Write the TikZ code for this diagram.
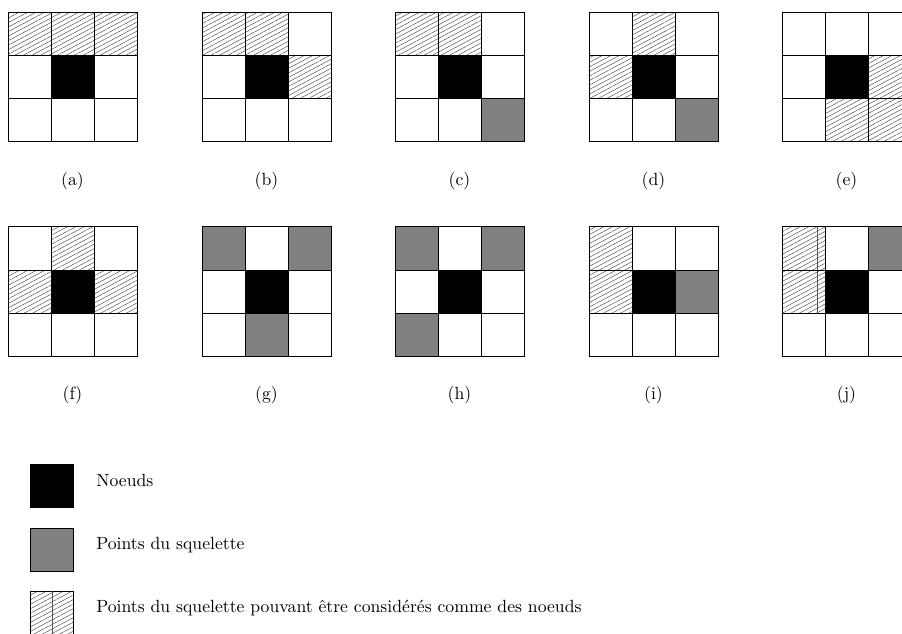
\documentclass[tikz,border=0pt]{standalone}
\usetikzlibrary{patterns.meta}
\definecolor{SkelGray}{HTML}{808080}
\definecolor{HatchGray}{HTML}{555555}

\tikzset{
  gridline/.style={line width=0.6pt},
  noeud/.style={fill=black},
  squel/.style={fill=SkelGray},
  hachure/.style={pattern={Lines[angle=28,distance=2.4pt,line width=0.3pt]},pattern color=HatchGray},
  trait/.style={HatchGray,line width=0.3pt},
  lab/.style={font=\fontsize{10.6pt}{13pt}\selectfont,inner sep=0pt}
}
% une grille 3x3 : cellules de 43 px, case centrale noire
\newcommand{\grille}[1]{%
  \fill[noeud] (43,43) rectangle ++(43,43);
  \foreach \k in {0,43,86,129}{\draw[gridline] (\k,0)--(\k,129);\draw[gridline] (0,\k)--(129,\k);}
  \node[lab] (lab#1) at (64.5,168) {(#1)};}

\begin{document}
\begin{tikzpicture}[x=0.6pt,y=-0.6pt,line cap=rect,line join=miter]
  \useasboundingbox (0,0) rectangle (902,634);
  \clip (0,0) rectangle (902,634);
  % premiere ligne
  \begin{scope}[shift={(8,13)}]
    \foreach \c/\r in {0/0,1/0,2/0}{\fill[hachure] (43*\c,43*\r) rectangle ++(43,43);}
    \grille{a}
  \end{scope}
  \begin{scope}[shift={(202,13)}]
    \foreach \c/\r in {0/0,1/0,2/1}{\fill[hachure] (43*\c,43*\r) rectangle ++(43,43);}
    \grille{b}
  \end{scope}
  \begin{scope}[shift={(395,13)}]
    \foreach \c/\r in {0/0,1/0}{\fill[hachure] (43*\c,43*\r) rectangle ++(43,43);}
    \fill[squel] (86,86) rectangle ++(43,43);
    \grille{c}
  \end{scope}
  \begin{scope}[shift={(589,13)}]
    \foreach \c/\r in {1/0,0/1}{\fill[hachure] (43*\c,43*\r) rectangle ++(43,43);}
    \fill[squel] (86,86) rectangle ++(43,43);
    \grille{d}
  \end{scope}
  \begin{scope}[shift={(782,13)}]
    \foreach \c/\r in {2/1,1/2,2/2}{\fill[hachure] (43*\c,43*\r) rectangle ++(43,43);}
    \grille{e}
  \end{scope}
  % deuxieme ligne
  \begin{scope}[shift={(8,227)}]
    \foreach \c/\r in {1/0,0/1,2/1}{\fill[hachure] (43*\c,43*\r) rectangle ++(43,43);}
    \grille{f}
  \end{scope}
  \begin{scope}[shift={(202,227)}]
    \foreach \c/\r in {0/0,2/0,1/2}{\fill[squel] (43*\c,43*\r) rectangle ++(43,43);}
    \grille{g}
  \end{scope}
  \begin{scope}[shift={(395,227)}]
    \foreach \c/\r in {0/0,2/0,0/2}{\fill[squel] (43*\c,43*\r) rectangle ++(43,43);}
    \grille{h}
  \end{scope}
  \begin{scope}[shift={(589,227)}]
    \foreach \c/\r in {0/0,0/1}{\fill[hachure] (43*\c,43*\r) rectangle ++(43,43);}
    \fill[squel] (86,43) rectangle ++(43,43);
    \grille{i}
  \end{scope}
  \begin{scope}[shift={(782,227)}]
    \foreach \c/\r in {0/0,0/1}{\fill[hachure] (43*\c,43*\r) rectangle ++(43,43);}
    \draw[trait] (35,0)--(35,86);
    \fill[squel] (86,0) rectangle ++(43,43);
    \grille{j}
  \end{scope}
  % legende
  \node[noeud,draw,minimum size=43*0.6pt,inner sep=0pt,anchor=north west] (legN) at (30,464) {};
  \node[squel,draw,minimum size=43*0.6pt,inner sep=0pt,anchor=north west] (legS) at (30,528) {};
  \node[hachure,draw,minimum size=43*0.6pt,inner sep=0pt,anchor=north west] (legH) at (30,591) {};
  \draw[trait] (legH.north)--(legH.south);
  \node[lab,anchor=west] (txtN) at (96,480) {Noeuds};
  \node[lab,anchor=west] (txtS) at (96,545) {Points du squelette};
  \node[lab,anchor=west] (txtH) at (96,608) {Points du squelette pouvant être considérés comme des noeuds};
\end{tikzpicture}
\end{document}
